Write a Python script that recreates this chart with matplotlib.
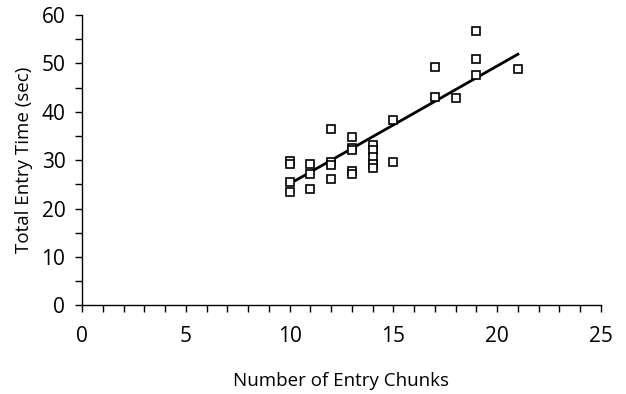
import numpy as np
import matplotlib.pyplot as plt
from matplotlib.ticker import MultipleLocator

# chunks vs total entry time
chunks = [10, 10, 10, 10,
          11, 11, 11,
          12, 12, 12, 12,
          13, 13, 13, 13, 13,
          14, 14, 14, 14, 14,
          15, 15,
          17, 17,
          18,
          19, 19, 19,
          21]
entry_time = [29.9, 29.3, 25.5, 23.5,
              29.3, 27.1, 24.0,
              36.4, 29.6, 29.1, 26.2,
              34.8, 32.5, 32.0, 27.8, 27.2,
              33.1, 32.1, 30.7, 29.3, 28.3,
              38.4, 29.7,
              49.2, 43.1,
              42.8,
              56.7, 50.8, 47.6,
              48.8]

# trend line as drawn in the original
fit_slope = 2.436
fit_intercept = 0.74

plt.rcParams['font.family'] = ['Open Sans', 'DejaVu Sans']

fig = plt.figure(figsize=(6.26, 3.94), dpi=100)
ax = fig.add_axes([0.131, 0.225, 0.829, 0.737])

x = np.array(chunks)
y = np.array(entry_time)
ax.plot(x, y, 's', ms=5.4, mfc='white', mec='black', mew=1.2, zorder=3)

xs = np.array([x.min(), x.max()])
ax.plot(xs, fit_slope * xs + fit_intercept, color='black', lw=2, zorder=2)

ax.set_xlim(0, 25)
ax.set_ylim(0, 60)
ax.xaxis.set_major_locator(MultipleLocator(5))
ax.xaxis.set_minor_locator(MultipleLocator(1))
ax.yaxis.set_major_locator(MultipleLocator(10))
ax.yaxis.set_minor_locator(MultipleLocator(5))
ax.tick_params(which='both', direction='out', length=5, width=1, labelsize=15)
ax.tick_params(axis='x', pad=10)
ax.tick_params(axis='y', pad=7)

for s in ['top', 'right']:
    ax.spines[s].set_visible(False)
for s in ['left', 'bottom']:
    ax.spines[s].set_linewidth(1)

ax.set_xlabel('Number of Entry Chunks', fontsize=13.5, labelpad=18)
ax.set_ylabel('Total Entry Time (sec)', fontsize=13.5, labelpad=6)

fig.savefig('out.png', dpi=100)
